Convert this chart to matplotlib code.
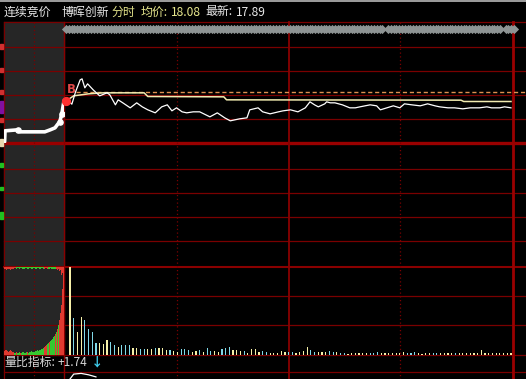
import numpy as np
import matplotlib.pyplot as plt
from matplotlib.patches import Rectangle

plt.rcParams['font.family'] = ['Noto Sans CJK SC', 'DejaVu Sans']

W, H = 526, 379

# ---------------- data ----------------
# auction 9:15-9:25, minutes after 9:15
auc_t = [0.1, 0.17, 2.3, 2.7, 6.8, 7.7, 8.5, 9.0, 9.3, 9.5, 9.7, 9.8, 10.0]
auc_price = [16.87, 17.20, 17.23, 17.17, 17.17, 17.23, 17.29, 17.41, 17.47, 17.62, 17.77, 17.89, 18.10]
auc_dot_t = [2.3, 9.3, 9.6]
auc_dot_p = [17.23, 17.47, 17.70]

# auction volume (10 s bars), matched (from bottom) and unmatched (from top)
auc_vol = [4, 5, 5, 4, 3, 4, 5, 4, 3, 3,
           2, 2, 3, 2, 2, 3, 2, 2, 3, 3,
           2, 2, 3, 3, 2, 3, 3, 4, 3, 3,
           3, 4, 4, 5, 4, 5, 5, 6, 6, 7,
           8, 9, 10, 11, 12, 13, 14, 15, 16, 18,
           19, 21, 23, 26, 30, 35, 42, 50, 66, 86]
auc_vol_up = "rrrrrrrrrr" "ggrgggrggg" "gggrgggggg" "gggggggggg" "rrrggrgggg" "grgrgrrrrr"
auc_top = [2, 2, 3, 2, 2, 2, 3, 2, 2, 2,
           1, 1, 2, 1, 1, 2, 1, 1, 2, 2,
           2, 1, 1, 2, 2, 1, 1, 2, 2, 1,
           1, 2, 2, 1, 1, 2, 2, 1, 1, 2,
           2, 1, 1, 2, 2, 2, 1, 2, 2, 2,
           2, 2, 2, 3, 2, 4, 3, 8, 6, 2]
auc_top_up = "rrrrrrrrrr" "rrgggggggg" "gggggggggg" "gggggggggg" "rrrrgggggg" "ggrrrrrrrr"

# continuous trading, minutes after 9:30 (0-240)
minute = [0, 0.5, 3, 5, 7.5, 8.5, 10, 11.5, 14.5, 18, 22, 23.5, 26.5, 28, 30.5, 34.5,
          38, 41, 44, 48, 51.5, 54.5, 57, 59.5, 62.5, 65, 68.5, 72, 77.5, 81.5, 85.5,
          88.5, 93.5, 97.5, 99, 103.5, 106, 110, 114.5, 117, 121, 125, 129, 131.5,
          134, 136, 139.5, 140.5, 142.5, 145, 149, 153, 156, 158.5, 164, 167.5, 169.5,
          173, 176.5, 180, 182.5, 186.5, 191, 195, 199, 201.5, 206, 209.5, 214, 218,
          223, 227, 229.5, 234, 236.5, 240]
price = [18.10, 18.13, 18.00, 18.37, 18.73, 18.76, 18.49, 18.61, 18.43, 18.25, 18.34,
         18.28, 17.98, 18.13, 18.04, 17.89, 18.04, 17.92, 17.83, 17.74, 17.92, 17.98,
         17.80, 17.89, 17.77, 17.74, 17.77, 17.77, 17.62, 17.74, 17.59, 17.50, 17.56,
         17.59, 17.83, 17.89, 17.77, 17.71, 17.77, 17.80, 17.83, 17.77, 17.89, 18.07,
         17.98, 17.92, 18.01, 18.07, 18.04, 18.04, 17.98, 17.89, 17.89, 17.92, 17.98,
         17.95, 17.83, 17.89, 17.95, 17.89, 18.01, 17.98, 17.95, 18.01, 17.95, 17.92,
         17.89, 17.89, 17.86, 17.89, 17.89, 17.92, 17.89, 17.89, 17.92, 17.89]
avg_minute = [0, 4, 12, 20, 42, 44, 85, 86.5, 213, 214.5, 240]
avg_price = [18.10, 18.25, 18.31, 18.34, 18.34, 18.23, 18.22, 18.13, 18.12, 18.08, 18.08]
ref_price = 18.37

# 2-minute volume bars
vol_minute = list(range(2, 242, 2))
volume = [88, 37, 23, 38, 35, 26, 23, 12, 12, 11, 15, 13, 10, 8, 10, 10, 10, 7, 7, 6,
          6, 6, 6, 7, 7, 7, 5, 5, 4, 3, 6, 6, 5, 3, 4,
          5, 3.3, 6.7, 4, 4, 2.7, 6, 6.7, 7.7, 5, 5, 4.3, 4, 2.3, 6, 6, 3.3, 4.3, 3.3, 2.3,
          2.3, 2.3, 4, 3.3, 2.7, 3.3, 2.3, 3.3, 4, 8.3, 5, 3.3, 3.3, 3.3, 3.3, 4.3, 3.3, 2.7,
          2.3, 2.3, 1, 2.3, 2.3, 1.7, 2.3, 1.7, 2.3, 2.3, 3.3, 2.3, 2.3, 1.7, 2.3, 2.3, 2.3,
          3.3, 2.3, 2.3, 3.3, 1.7, 1, 1.7, 2.3, 2.3, 2.3, 1.7, 1.7, 1.7, 1.7, 2.3, 2.3, 2.3,
          2.3, 2.3, 2.3, 2.3, 5, 2.3, 2.3, 1.7, 1.7, 2.3, 2.3, 2.3, 2.3]
vol_kind = ("ycyyccccyyyccycccyyccyycyyycyycccyy"
            "cyccyycccyyycyyyyccyyyyyccyyyyccyyyccyccyyyyy"
            "ycccyyyyyyycccyyyyccyyyycyyyyyyyyyyyyyyyyy")

# ---------------- figure ----------------
fig = plt.figure(figsize=(W / 100, H / 100), dpi=100, facecolor='black')
bg = fig.add_axes([0, 0, 1, 1])
bg.set_xlim(0, W)
bg.set_ylim(H, 0)
bg.axis('off')
bg.add_patch(Rectangle((0, 0), W, H, color='black', zorder=0))
bg.add_patch(Rectangle((4, 22), 60, 333, color='#262626', zorder=1))
bg.plot([0, W], [0.5, 0.5], color='#b8b8b8', lw=1.2, zorder=3)

grid = '#7a0000'
for y in [22, 47, 71, 95, 119, 169, 193, 217, 241, 296, 325, 355, 372]:
    bg.plot([4, W], [y, y], color=grid, lw=0.9, zorder=2)
bg.plot([4, W], [143, 143], color='#9a0000', lw=2.4, zorder=2)
bg.plot([4, W], [267, 267], color='#8a0000', lw=1.5, zorder=2)
bg.plot([4, 4], [22, H], color=grid, lw=0.9, zorder=2)
bg.plot([64, 64], [22, H], color='#8a0000', lw=1.0, zorder=2)
bg.plot([289, 289], [22, H], color='#8a0000', lw=1.3, zorder=2)
bg.plot([513, 513], [22, H], color='#9a0000', lw=2.0, zorder=2)
for x in [34, 177, 400]:
    bg.plot([x, x], [22, H], color=grid, lw=0.9, ls=(0, (1, 2)), zorder=2)

# left edge tick remnants
for y0, h, c in [(44, 5, '#d03030'), (68, 4, '#d03030'), (90, 4, '#d03030'),
                 (101, 12, '#8010a0'), (118, 4, '#d03030'), (139, 7, '#e8d8b0'),
                 (163, 4, '#20c020'), (187, 3, '#20c020'), (212, 7, '#20c020')]:
    bg.add_patch(Rectangle((0, y0), 3, h, color=c, zorder=3))

# gray marker strip
strip_x = np.arange(66, 516, 2.8)
strip_x = strip_x[(np.abs(strip_x - 386) > 1.5) & (np.abs(strip_x - 503) > 1.5)]
bg.scatter(strip_x, np.full(len(strip_x), 28.5), marker='D', s=22, color='#8e9494',
           linewidths=0, zorder=3)

# header text
hdr = [(4, '连续竞价', '#e8e8e8'), (62, '博晖创新', '#e8e8e8'), (112, '分时', '#e0e088'),
       (141, '均价:', '#e6e68c'), (171, '18.08', '#e6e68c'), (205, '最新:', '#e8e8e8'),
       (236, '17.89', '#e8e8e8')]
for x, s, c in hdr:
    bg.text(x, 12, s, color=c, fontsize=8.6, va='center', ha='left', zorder=4)
bg.text(4, 362.5, '量比指标:', color='#d8d8d8', fontsize=8.6, va='center', zorder=4)
bg.text(58, 362.5, '+1.74', color='#d8d8d8', fontsize=8.6, va='center', zorder=4)
bg.text(91, 362.5, '↓', color='#40d0f0', fontsize=9, va='center', fontweight='bold', zorder=4)


def px_axes(x0, y0, x1, y1):
    ax = fig.add_axes([x0 / W, 1 - y1 / H, (x1 - x0) / W, (y1 - y0) / H])
    ax.axis('off')
    return ax


p_lim = (16.835, 20.465)
m_lim = (-1.24, 248.1)

# auction price
ax_ap = px_axes(4, 22, 64, 143)
ax_ap.set_xlim(0, 10)
ax_ap.set_ylim(*p_lim)
ax_ap.plot(auc_t, auc_price, color='white', lw=2.6, solid_capstyle='round')
ax_ap.scatter(auc_dot_t, auc_dot_p, s=14, color='white', zorder=3)

# main price
ax_p = px_axes(64, 22, W, 143)
ax_p.set_xlim(*m_lim)
ax_p.set_ylim(*p_lim)
ax_p.plot([5, m_lim[1]], [ref_price, ref_price], color='#e09050', lw=1.0, ls=(0, (3, 2)))
ax_p.plot(avg_minute, avg_price, color='#f2ecb0', lw=1.1)
ax_p.plot(minute, price, color='white', lw=0.9)
ax_p.scatter([0], [price[0]], s=32, color='#ff3030', zorder=4, clip_on=False)
ax_p.text(0.3, 18.44, 'B', color='#e04848', fontsize=8.5, fontweight='bold',
          family='DejaVu Sans', ha='left', va='center')

# auction volume
vt = (np.arange(len(auc_vol)) + 0.5) / 6
ax_av = px_axes(4, 267, 64, 355)
ax_av.set_xlim(0, 10)
ax_av.set_ylim(0, 88)
col = {'r': '#e03a30', 'g': '#36c830'}
ax_av.bar(vt, auc_vol, width=0.16, color=[col[k] for k in auc_vol_up], linewidth=0)
ax_av.bar(vt, auc_top, bottom=88 - np.array(auc_top), width=0.16,
          color=[col[k] for k in auc_top_up], linewidth=0)

# main volume
ax_v = px_axes(64, 267, W, 355)
ax_v.set_xlim(*m_lim)
ax_v.set_ylim(0, 88)
vcol = {'y': '#f6f0a8', 'c': '#80d8e8'}
ax_v.bar(vol_minute, volume, width=0.65, color=[vcol[k] for k in vol_kind], linewidth=0)

# next panel line peeking under the indicator text
ax_n = px_axes(64, 372, W, H)
ax_n.set_xlim(*m_lim)
ax_n.set_ylim(0, 10)
ax_n.plot([2, 4, 8, 12, 16], [0, 7, 8, 6, 3], color='white', lw=0.9)

fig.savefig('out.png', dpi=100, facecolor='black')
